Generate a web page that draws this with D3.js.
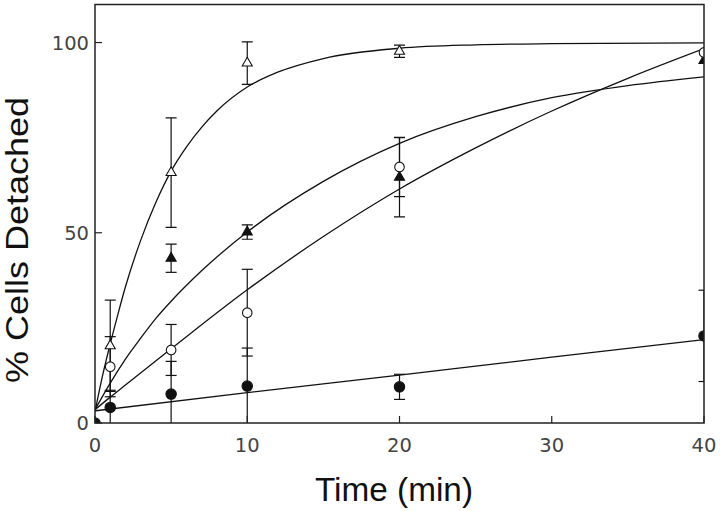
<!DOCTYPE html>
<html>
<head>
<meta charset="utf-8">
<script src="https://cdn.jsdelivr.net/npm/d3@7"></script>
<style>
  html, body { margin: 0; padding: 0; background: #fff; }
  svg { display: block; }
</style>
</head>
<body>
<svg id="chart" width="720" height="511"></svg>
<script>
// ---------- data ----------
const xTicks = [0, 10, 20, 30, 40];
const yTicks = [0, 50, 100];

// measured points (Time in min, % cells detached, +/- error)
const openTriT   = [1, 5, 10, 20];
const openTriY   = [20.3, 65.8, 94.6, 97.7];
const openTriE   = [12.0, 14.4, 5.6, 1.6];

const fillTriT   = [5, 10, 20, 40];
const fillTriY   = [43.3, 50.2, 64.6, 95.3];
const fillTriE   = [3.7, 1.9, 10.4, 0];

const openCircT  = [1, 5, 10, 20, 40];
const openCircY  = [14.8, 19.2, 29.0, 67.3, 97.4];
const openCircE  = [7.9, 6.7, 11.4, 7.8, 0];

const fillCircT  = [0, 1, 5, 10, 20, 40];
const fillCircY  = [0, 4.1, 7.6, 9.7, 9.5, 22.9];
const fillCircE  = [0, 4.5, 8.6, 10.0, 3.3, 12.0];

// fitted curves
const fitOpenTriT  = [0, 0.5, 1, 1.5, 2, 3, 4, 5, 6, 7, 8, 10, 12, 15, 20, 25, 30, 40];
const fitOpenTriY  = [3, 12.5, 20.8, 28.5, 35.8, 48, 58, 66.2, 72.5, 77.7, 82, 88.3, 92.2, 95.8, 98.5, 99.4, 99.7, 99.9];

const fitFillTriT  = [0, 1, 2, 3, 4, 5, 7, 10, 15, 20, 25, 30, 35, 40];
const fitFillTriY  = [3.5, 10.5, 16.8, 22.3, 27.5, 32, 40, 50.2, 63.5, 73.5, 80.5, 85.5, 88.7, 91];

const fitOpenCircT = [0, 1, 2, 5, 10, 15, 20, 25, 30, 35, 40];
const fitOpenCircY = [3.5, 6.8, 10, 19.5, 35, 49, 61.5, 72.3, 82, 90.6, 98.4];

const fitFillCircT = [0, 10, 20, 30, 40];
const fitFillCircY = [3.2, 8, 12.6, 17.3, 21.9];

const xLabel = "Time (min)";
const yLabel = "% Cells Detached";

// ---------- drawing ----------
const svg = d3.select("#chart");
const L = 95, R = 704, T = 4.5, B = 423;

const x = d3.scaleLinear().domain([0, 40]).range([L, R]);
const y = d3.scaleLinear().domain([0, 110]).range([B, T]);

svg.append("defs").append("clipPath").attr("id", "plotclip")
  .append("rect").attr("x", L).attr("y", T).attr("width", R - L).attr("height", B - T);

const plot = svg.append("g").attr("clip-path", "url(#plotclip)");

const zip = (ts, vs) => ts.map((t, i) => ({t, v: vs[i]}));
const line = d3.line().x(d => x(d.t)).y(d => y(d.v)).curve(d3.curveMonotoneX);

[[fitOpenTriT, fitOpenTriY], [fitFillTriT, fitFillTriY],
 [fitOpenCircT, fitOpenCircY], [fitFillCircT, fitFillCircY]].forEach(([ts, vs]) => {
  plot.append("path").datum(zip(ts, vs)).attr("d", line)
    .attr("fill", "none").attr("stroke", "#111").attr("stroke-width", 1.3);
});

// error bars
const capW = 5.5;
function errorBars(ts, vs, es) {
  ts.forEach((t, i) => {
    const e = es[i];
    if (!e) return;
    const cx = x(t), y1 = y(vs[i] + e), y2 = y(vs[i] - e);
    const g = plot.append("g").attr("stroke", "#111").attr("stroke-width", 1.2);
    g.append("line").attr("x1", cx).attr("x2", cx).attr("y1", y1).attr("y2", y2);
    g.append("line").attr("x1", cx - capW).attr("x2", cx + capW).attr("y1", y1).attr("y2", y1);
    g.append("line").attr("x1", cx - capW).attr("x2", cx + capW).attr("y1", y2).attr("y2", y2);
  });
}
errorBars(openTriT, openTriY, openTriE);
errorBars(fillTriT, fillTriY, fillTriE);
errorBars(openCircT, openCircY, openCircE);
errorBars(fillCircT, fillCircY, fillCircE);

// markers
const tri = d3.symbol().type(d3.symbolTriangle).size(44);
function markers(ts, vs, kind, filled) {
  ts.forEach((t, i) => {
    const cx = x(t), cy = y(vs[i]);
    if (kind === "tri") {
      plot.append("path").attr("d", tri()).attr("transform", `translate(${cx},${cy})`)
        .attr("fill", filled ? "#111" : "#fff").attr("stroke", "#111").attr("stroke-width", 1.1);
    } else {
      plot.append("circle").attr("cx", cx).attr("cy", cy).attr("r", filled ? 5.2 : 4.8)
        .attr("fill", filled ? "#111" : "#fff").attr("stroke", "#111").attr("stroke-width", 1.1);
    }
  });
}
markers(openTriT, openTriY, "tri", false);
markers(fillTriT, fillTriY, "tri", true);
markers(openCircT, openCircY, "circ", false);
markers(fillCircT, fillCircY, "circ", true);

// frame
svg.append("rect").attr("x", L).attr("y", T).attr("width", R - L).attr("height", B - T)
  .attr("fill", "none").attr("stroke", "#222").attr("stroke-width", 1.5);

// ticks (inward)
const tickLen = 7;
const tickFont = "'DejaVu Sans', sans-serif";
const tickSize = 19.5;
xTicks.forEach(t => {
  svg.append("line").attr("x1", x(t)).attr("x2", x(t)).attr("y1", B).attr("y2", B - tickLen)
    .attr("stroke", "#222").attr("stroke-width", 1.2);
  svg.append("text").attr("x", x(t)).attr("y", 452).attr("text-anchor", "middle")
    .attr("font-family", tickFont).attr("font-size", tickSize)
    .attr("fill", "#444").text(t);
});
yTicks.forEach(v => {
  svg.append("line").attr("x1", L).attr("x2", L + tickLen).attr("y1", y(v)).attr("y2", y(v))
    .attr("stroke", "#222").attr("stroke-width", 1.2);
  svg.append("text").attr("x", 89).attr("y", y(v) + 7).attr("text-anchor", "end")
    .attr("font-family", tickFont).attr("font-size", tickSize)
    .attr("fill", "#444").text(v);
});

// axis labels
svg.append("text").attr("x", 394).attr("y", 501).attr("text-anchor", "middle")
  .attr("font-family", "'Liberation Sans', Arial, sans-serif").attr("font-size", 33)
  .attr("textLength", 158).attr("lengthAdjust", "spacingAndGlyphs")
  .attr("fill", "#111").text(xLabel);

svg.append("text").attr("transform", "translate(28,240) rotate(-90)").attr("text-anchor", "middle")
  .attr("font-family", "'Liberation Sans', Arial, sans-serif").attr("font-size", 32)
  .attr("textLength", 286).attr("lengthAdjust", "spacingAndGlyphs")
  .attr("fill", "#111").text(yLabel);
</script>
</body>
</html>
